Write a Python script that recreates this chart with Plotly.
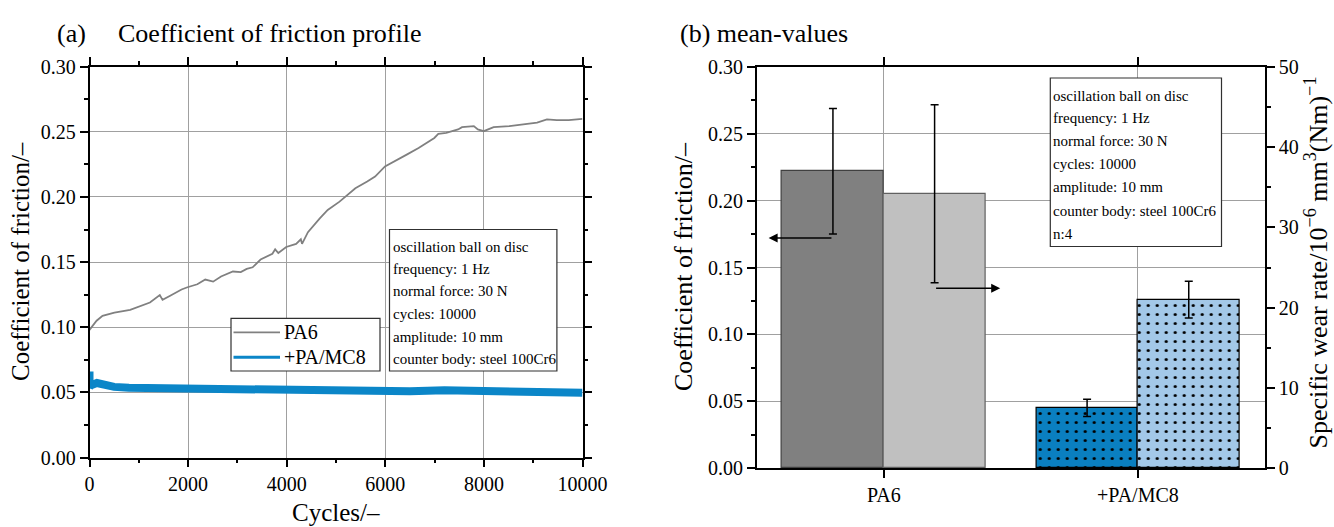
import plotly.graph_objects as go

W, H = 1334, 527
FONT = "Liberation Serif"

# ---------------- data: panel (a) ----------------
pa6_cycles = [0, 144, 264, 505, 825, 1000, 1226, 1426, 1482, 1627, 1867,
              1987, 2187, 2348, 2508, 2668, 2909, 3069, 3189, 3309, 3470,
              3710, 3766, 3830, 3990, 4191, 4287, 4311, 4431, 4671, 4832,
              5072, 5232, 5393, 5633, 5793, 5994, 6194, 6434, 6675, 6835,
              6995, 7075, 7236, 7476, 7556, 7796, 7877, 7997, 8197, 8518,
              8838, 9079, 9279, 9479, 9720, 10000]
pa6_cof = [0.098, 0.105, 0.1088, 0.1113, 0.1134, 0.1157, 0.119, 0.1247, 0.121, 0.124, 0.129,
           0.1307, 0.133, 0.1366, 0.135, 0.139, 0.1428, 0.1423, 0.1448, 0.146, 0.152,
           0.1564, 0.1598, 0.157, 0.1616, 0.164, 0.1675, 0.164, 0.173, 0.1835, 0.19,
           0.1964, 0.2015, 0.2067, 0.2118, 0.2157, 0.2234, 0.2273, 0.2325, 0.2376, 0.2415,
           0.2453, 0.2484, 0.2492, 0.2518, 0.2536, 0.2544, 0.2518, 0.2505, 0.2536, 0.2544,
           0.2557, 0.257, 0.2595, 0.259, 0.259, 0.26]

mc8_cycles = [0, 0, 30, 150, 300, 500, 800, 1500, 2000, 3000, 4000, 5000,
              5800, 6500, 7200, 7800, 8500, 9200, 10000]
mc8_cof = [0.066, 0.054, 0.0555, 0.0572, 0.0558, 0.0542, 0.0535, 0.053, 0.0525, 0.0518,
           0.0514, 0.051, 0.0502, 0.0508, 0.0516, 0.0512, 0.0504, 0.0505, 0.0497]

# ---------------- data: panel (b) ----------------
categories = ["PA6", "+PA/MC8"]
cof_mean = [0.222, 0.045]
cof_err = [0.047, 0.0065]
wear_mean = [34.2, 21.0]
wear_err = [11.1, 2.3]

x_ticks_a = [0, 2000, 4000, 6000, 8000, 10000]
x_ticklabels_a = ["0", "2000", "4000", "6000", "8000", "10000"]
y_ticks = [0.00, 0.05, 0.10, 0.15, 0.20, 0.25, 0.30]
y_ticks_wear = [0, 10, 20, 30, 40, 50]

legend_names = ["PA6", "+PA/MC8"]
info_a = ["oscillation ball on disc", "frequency: 1 Hz", "normal force: 30 N",
          "cycles: 10000", "amplitude: 10 mm", "counter body: steel 100Cr6"]
info_b = info_a + ["n:4"]

# colours
C_PA6_LINE = "#808080"
C_MC8_LINE = "#0b86c8"
C_COF = ["#808080", "#0a7fc0"]
C_WEAR = ["#c0c0c0", "#a3c8e8"]
C_EDGE_COF = ["#404040", "#000000"]
C_EDGE_WEAR = ["#606060", "#000000"]
PATTERNS = ["", "."]


def fx(px):
    return px / W


def fy(py):
    return 1 - py / H


fig = go.Figure()

# panel (a)
fig.add_trace(go.Scatter(x=mc8_cycles, y=mc8_cof, mode="lines", showlegend=False,
                         line=dict(color=C_MC8_LINE, width=8), xaxis="x", yaxis="y"))
fig.add_trace(go.Scatter(x=pa6_cycles, y=pa6_cof, mode="lines", showlegend=False,
                         line=dict(color=C_PA6_LINE, width=1.8), xaxis="x", yaxis="y"))

# panel (b): one trace per bar so that every bar gets its own fill and pattern
for i, cat in enumerate(categories):
    fig.add_trace(go.Bar(
        x=[cat], y=[cof_mean[i]], offset=-0.4, width=0.4, showlegend=False,
        xaxis="x2", yaxis="y2",
        marker=dict(color=C_COF[i], line=dict(color=C_EDGE_COF[i], width=1.2),
                    pattern=dict(shape=PATTERNS[i], fgcolor="#000000", bgcolor=C_COF[i],
                                 fillmode="replace", size=9, solidity=0.1)),
        error_y=dict(type="data", array=[cof_err[i]], color="black", thickness=1.5, width=4),
    ))
    fig.add_trace(go.Bar(
        x=[cat], y=[wear_mean[i]], offset=0.0, width=0.4, showlegend=False,
        xaxis="x2", yaxis="y3",
        marker=dict(color=C_WEAR[i], line=dict(color=C_EDGE_WEAR[i], width=1.2),
                    pattern=dict(shape=PATTERNS[i], fgcolor="#000000", bgcolor=C_WEAR[i],
                                 fillmode="replace", size=9, solidity=0.1)),
        error_y=dict(type="data", array=[wear_err[i]], color="black", thickness=1.5, width=4),
    ))

axis_common = dict(
    showline=True, linecolor="black", linewidth=1.5,
    ticks="outside", ticklen=8, tickwidth=1.5, tickcolor="black",
    showgrid=True, gridcolor="#a0a0a0", gridwidth=1, zeroline=False,
    tickfont=dict(family=FONT, size=20, color="black"),
)

fig.update_layout(
    width=W, height=H, autosize=False,
    margin=dict(l=0, r=0, t=0, b=0, pad=0, autoexpand=False),
    paper_bgcolor="white", plot_bgcolor="white",
    font=dict(family=FONT, color="black"),
    showlegend=False,
    xaxis=dict(axis_common, domain=[fx(89.5), fx(582.5)], range=[0, 10000],
               tickvals=x_ticks_a, ticktext=x_ticklabels_a, mirror="ticks", anchor="y",
               minor=dict(dtick=1000, ticklen=4, tickwidth=1.5, tickcolor="black", showgrid=False)),
    yaxis=dict(axis_common, domain=[fy(457.5), fy(66.7)], range=[0, 0.30],
               tickvals=y_ticks, tickformat=".2f", mirror="ticks", anchor="x",
               minor=dict(dtick=0.025, ticklen=4, tickwidth=1.5, tickcolor="black", showgrid=False)),
    xaxis2=dict(axis_common, domain=[fx(756.7), fx(1265)], range=[-0.5, 1.5],
                type="category", categoryorder="array", categoryarray=categories,
                mirror="ticks", anchor="y2"),
    yaxis2=dict(axis_common, domain=[fy(468), fy(67)], range=[0, 0.30],
                tickvals=y_ticks, tickformat=".2f", mirror=False, anchor="x2",
                minor=dict(dtick=0.025, ticklen=4, tickwidth=1.5, tickcolor="black", showgrid=False)),
    yaxis3=dict(axis_common, overlaying="y2", side="right", anchor="x2",
                range=[0, 50], tickvals=y_ticks_wear, showgrid=False,
                minor=dict(dtick=5, ticklen=4, tickwidth=1.5, tickcolor="black", showgrid=False)),
    bargap=0,
)

shapes = []
annotations = []


def text_box(x0, x1, y0, y1, lines, ys, tx, size):
    shapes.append(dict(type="rect", xref="paper", yref="paper",
                       x0=fx(x0), x1=fx(x1), y0=fy(y1), y1=fy(y0),
                       line=dict(color="#303030", width=1.2), fillcolor="white",
                       layer="above"))
    for t, yy in zip(lines, ys):
        annotations.append(dict(text=t, xref="paper", yref="paper", x=fx(tx), y=fy(yy),
                                xanchor="left", yanchor="middle", showarrow=False,
                                font=dict(family=FONT, size=size, color="black")))


text_box(389.5, 556.9, 229.5, 371, info_a,
         [246.9, 268.7, 290.9, 314.0, 336.8, 359.3], 390.5, 15)
text_box(1050.3, 1221.5, 78, 246.5, info_b,
         [95.6, 118.2, 141.0, 164.3, 187.2, 211.0, 234.3], 1050.8, 15)

# legend of panel (a), drawn as a framed key
text_box(231, 380, 318.3, 371, legend_names, [332.3, 357.3], 282, 20)
for yy, col, wd in [(332.3, C_PA6_LINE, 1.8), (357.3, C_MC8_LINE, 3)]:
    shapes.append(dict(type="line", xref="paper", yref="paper",
                       x0=fx(233.5), x1=fx(280), y0=fy(yy), y1=fy(yy),
                       line=dict(color=col, width=wd), layer="above"))

# titles
annotations += [
    dict(text="(a)", xref="paper", yref="paper", x=fx(55), y=fy(33), xanchor="left",
         yanchor="middle", showarrow=False, font=dict(family=FONT, size=26)),
    dict(text="Coefficient of friction profile", xref="paper", yref="paper", x=fx(116), y=fy(33),
         xanchor="left", yanchor="middle", showarrow=False, font=dict(family=FONT, size=26)),
    dict(text="(b) mean-values", xref="paper", yref="paper", x=fx(678), y=fy(33),
         xanchor="left", yanchor="middle", showarrow=False, font=dict(family=FONT, size=26)),
    # axis titles
    dict(text="Coefficient of friction/–", xref="paper", yref="paper", x=fx(21), y=fy(262),
         xanchor="center", yanchor="middle", textangle=-90, showarrow=False,
         font=dict(family=FONT, size=25)),
    dict(text="Cycles/–", xref="paper", yref="paper", x=fx(336), y=fy(512),
         xanchor="center", yanchor="middle", showarrow=False, font=dict(family=FONT, size=25)),
    dict(text="Coefficient of friction/–", xref="paper", yref="paper", x=fx(683), y=fy(267),
         xanchor="center", yanchor="middle", textangle=-90, showarrow=False,
         font=dict(family=FONT, size=26)),
    dict(text="Specific wear rate/10<sup>−6</sup> mm<sup>3</sup>(Nm)<sup>−1</sup>",
         xref="paper", yref="paper", x=fx(1335), y=fy(263),
         xanchor="right", yanchor="middle", textangle=-90, showarrow=False,
         font=dict(family=FONT, size=26)),
    # arrows pointing to the respective axes
    dict(text="", xref="x2", yref="y2", x=-0.453, y=0.172, axref="x2", ayref="y2",
         ax=-0.2, ay=0.172, showarrow=True, arrowhead=2, arrowsize=1.2, arrowwidth=1.5,
         arrowcolor="black", standoff=0, startstandoff=0),
    dict(text="", xref="x2", yref="y3", x=0.458, y=22.4, axref="x2", ayref="y3",
         ax=0.2, ay=22.4, showarrow=True, arrowhead=2, arrowsize=1.2, arrowwidth=1.5,
         arrowcolor="black", standoff=0, startstandoff=0),
]

fig.update_layout(shapes=shapes, annotations=annotations)
fig.write_html("out.html")
